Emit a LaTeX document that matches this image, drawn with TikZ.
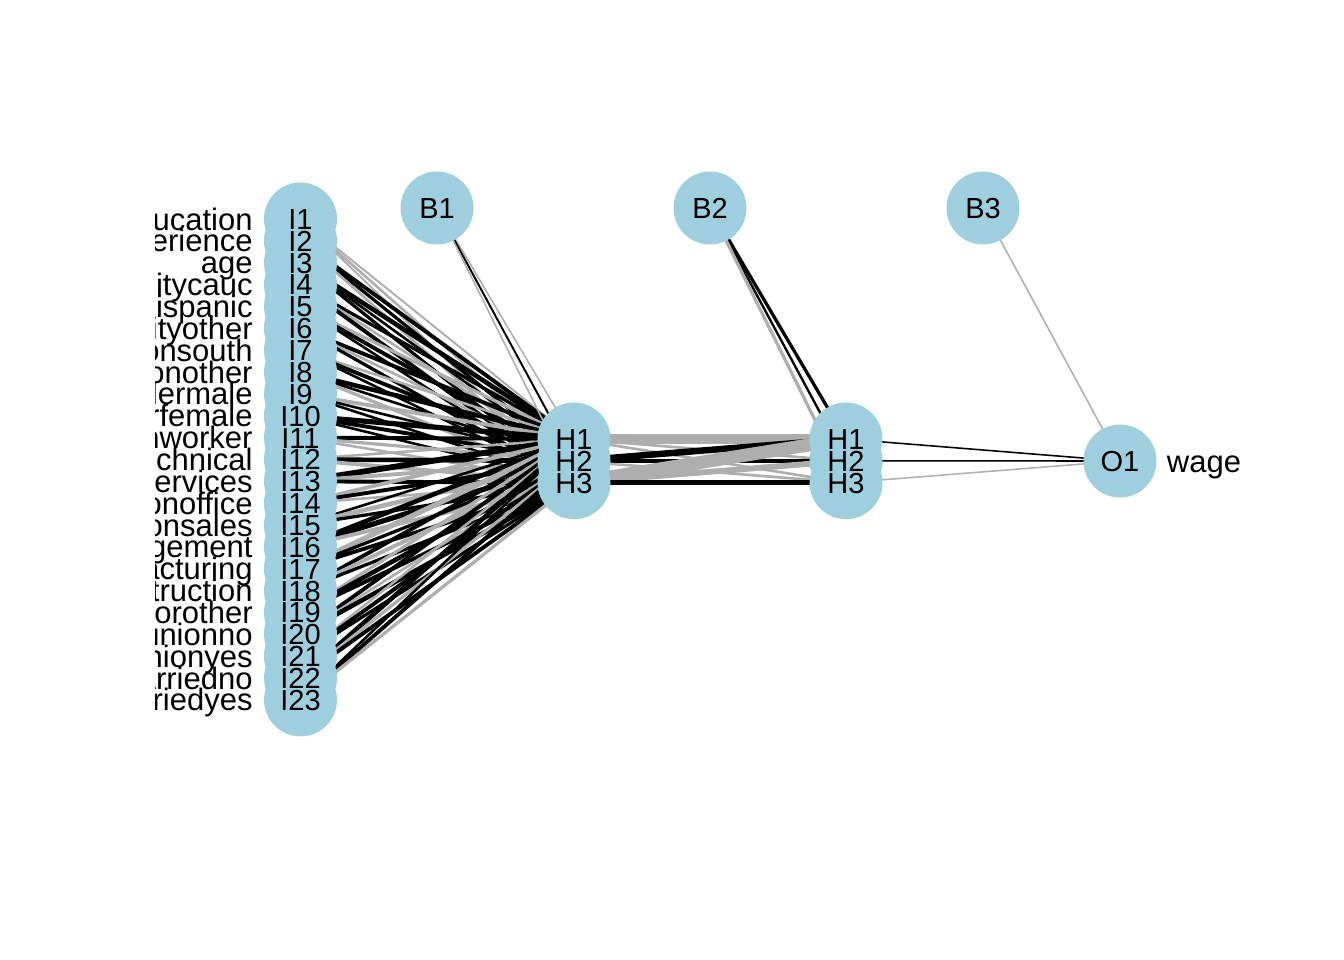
\documentclass[tikz,border=0pt]{standalone}
\usepackage{fontspec}
\setmainfont{Liberation Sans}
\usetikzlibrary{positioning,backgrounds}
\definecolor{nodeblue}{RGB}{159,207,223}
\definecolor{edgegrey}{RGB}{174,174,174}
\tikzset{
  neuron/.style={circle, fill=nodeblue, minimum size=73pt, inner sep=0pt},
  nlabel/.style={inner sep=0pt, text height=20.8pt, text depth=0pt, font=\fontsize{29}{29}\selectfont},
  vlabel/.style={inner sep=0pt, text height=22pt, text depth=0pt, font=\fontsize{31}{31}\selectfont},
  wt/.code={\pgfmathsetmacro\wabs{1.3*abs(#1)}\pgfmathtruncatemacro\wpos{#1>0}%
    \ifnum\wpos=1 \pgfkeysalso{draw=black}\else\pgfkeysalso{draw=edgegrey}\fi
    \pgfkeysalso{line width=\wabs pt}}
}
\begin{document}
\begin{tikzpicture}[x=1pt, y=-1pt, node distance=21.86pt]
  \useasboundingbox (0,0) rectangle (1344,960);
  % input layer
  \node[neuron] (i1) at (300.5,219) {};
  \foreach \k [remember=\k as \p (initially 1)] in {2,...,23}
    \node[neuron, below of=i\p] (i\k) {};
  % bias nodes
  \node[neuron] (b1) at (437,208) {};
  \node[neuron, right of=b1, node distance=273pt] (b2) {};
  \node[neuron, right of=b2, node distance=273pt] (b3) {};
  % hidden layers
  \node[neuron] (h1) at (574,439) {};
  \node[neuron, below of=h1] (h2) {};
  \node[neuron, below of=h2] (h3) {};
  \node[neuron, right of=h1, node distance=272pt] (hh1) {};
  \node[neuron, below of=hh1] (hh2) {};
  \node[neuron, below of=hh2] (hh3) {};
  % output
  \node[neuron] (o1) at (1120,461) {};

  \begin{scope}[on background layer]
    \foreach \k/\wa/\wb/\wc in {1/-1.5/-2/-1.5, 2/3/2.5/-2, 3/3.5/2/2.5, 4/2.5/-2/3,
        5/-2.5/3/2, 6/3/-2/2.5, 7/-2/3/2, 8/3.5/2/-2.5, 9/-3/2/2, 10/4/3/2,
        11/3/-2.5/-2, 12/-2/3.5/-3, 13/4.5/-3/3, 14/-3/3/-2, 15/2/-3.5/2.5,
        16/3.5/4/-3, 17/-4/2.5/3, 18/3/-3/2.5, 19/-2.5/3.5/3, 20/3/-2/3.5,
        21/-2/3/2.5, 22/3.5/-2.5/3, 23/2/3/-2.5} {
      \draw[wt=\wa] (i\k.center) -- (h1.center);
      \draw[wt=\wb] (i\k.center) -- (h2.center);
      \draw[wt=\wc] (i\k.center) -- (h3.center);
    }
    \foreach \k/\wa/\wb/\wc in {1/-7/-2/-2, 2/5/3/-2, 3/-10/-4.5/3.5} {
      \draw[wt=\wa] (h\k.center) -- (hh1.center);
      \draw[wt=\wb] (h\k.center) -- (hh2.center);
      \draw[wt=\wc] (h\k.center) -- (hh3.center);
    }
    \draw[wt=-1.2] (b1.center) -- (h1.center);
    \draw[wt=1.5] (b1.center) -- (h2.center);
    \draw[wt=-1.2] (b1.center) -- (h3.center);
    \draw[wt=2.5] (b2.center) -- (hh1.center);
    \draw[wt=1.8] (b2.center) -- (hh2.center);
    \draw[wt=-2.5] (b2.center) -- (hh3.center);
    \draw[wt=1.2] (hh1.center) -- (o1.center);
    \draw[wt=1.2] (hh2.center) -- (o1.center);
    \draw[wt=-1.2] (hh3.center) -- (o1.center);
    \draw[wt=-1.2] (b3.center) -- (o1.center);
  \end{scope}

  % labels
  \foreach \k in {1,...,23}
    \node[nlabel] at (i\k) {I\k};
  \foreach \k in {1,2,3} {
    \node[nlabel] at (b\k) {B\k};
    \node[nlabel] at (h\k) {H\k};
    \node[nlabel] at (hh\k) {H\k};
  }
  \node[nlabel] at (o1) {O1};
  \node[vlabel, right=10pt of o1] (wage) {wage};
  \begin{scope}
    \clip (155,0) rectangle (1344,960);
    \foreach \k/\name in {1/education, 2/experience, 3/age, 4/ethnicitycauc,
        5/ethnicityhispanic, 6/ethnicityother, 7/regionsouth, 8/regionother,
        9/gendermale, 10/genderfemale, 11/occupationworker, 12/occupationtechnical,
        13/occupationservices, 14/occupationoffice, 15/occupationsales,
        16/occupationmanagement, 17/sectormanufacturing, 18/sectorconstruction,
        19/sectorother, 20/unionno, 21/unionyes, 22/marriedno, 23/marriedyes}
      \node[vlabel, left=11pt of i\k.west] (v\k) {\name};
  \end{scope}
\end{tikzpicture}
\end{document}
